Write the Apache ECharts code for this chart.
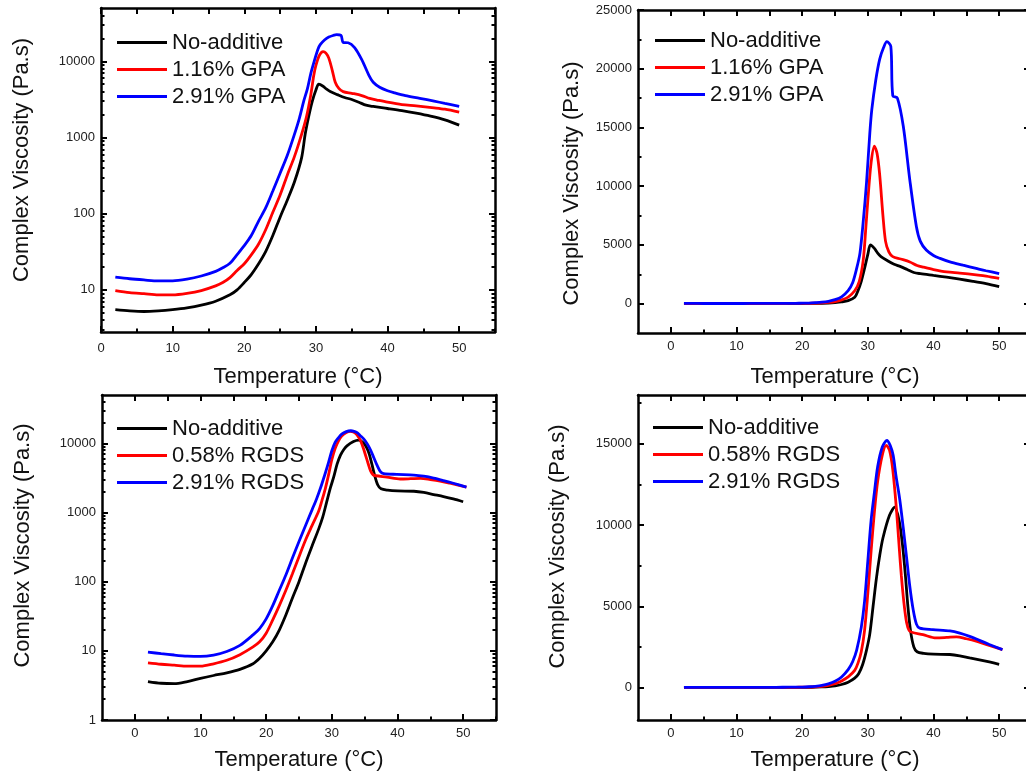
<!DOCTYPE html>
<html>
<head>
<meta charset="utf-8">
<script src="https://cdn.jsdelivr.net/npm/echarts@6/dist/echarts.min.js"></script>
<style>html,body{margin:0;padding:0;background:#fff;}#c{width:1026px;height:776px;}</style>
</head>
<body>
<div id="c"></div>
<script>
// ---------- DATA ----------
// GPA set (top panels: log and linear view of the same measurements)
const gpaTempNo = [2,4,6,8,10,12,14,16,18,19,20,21,22,23,24,25,26,27,28,28.5,29,29.5,30,30.4,31,31.5,32,33,34,35,36,37,38,40,42,44,46,48,50];
const gpaNo     = [5.5,5.3,5.2,5.3,5.5,5.8,6.3,7.1,8.6,10,12.5,16,22,32,52,90,150,260,540,1100,1900,3000,4200,5000,4700,4300,4000,3650,3350,3150,2900,2650,2550,2400,2250,2080,1900,1700,1450];
const gpaTemp1  = [2,4,6,8,10,12,14,16,17,18,19,20,21,22,23,24,25,26,27,28,28.7,29.3,29.7,30,30.5,31,31.4,31.8,32.3,32.7,33.2,33.8,35,36.4,37.5,38.5,40,42,44,46.5,48,50];
const gpa1      = [9.8,9.2,8.9,8.6,8.6,9.0,9.8,11.3,12.5,14.5,18,22,29,40,62,105,176,320,560,1100,1900,3700,6500,8800,12000,13400,12800,11000,7500,5300,4400,4000,3800,3550,3250,3100,2900,2700,2600,2450,2350,2150];
const gpaTemp2  = [2,4,6,8,10,12,14,16,17,18,19,20,21,22,23,24,25,26,27,27.7,28.3,28.8,29.3,29.8,30.3,30.6,31.2,31.8,32.4,32.9,33.5,33.8,34.5,35.4,36.4,37.4,38,38.9,40,41,42.5,44.5,46.5,48,50];
const gpa2      = [14.7,14.0,13.5,13.1,13.1,13.8,15.2,17.5,19.5,22.4,29,38,52,80,120,200,340,580,1100,1800,3000,4300,7000,10300,14500,16500,19000,20800,21800,22300,21900,17700,17500,15100,10500,6550,5300,4560,4100,3850,3550,3270,3000,2800,2560];
// RGDS set (bottom panels)
const rgdTempNo = [2,4,6,8,10,12,14,16,18,19,20,21,22,23,24,25,26,27,28,28.6,29.2,29.8,30.3,30.8,31.3,31.8,32.3,33.3,34.1,34.8,35.3,35.7,36.1,36.5,37,37.5,38.5,40,42.5,44,45.5,47,48.5,50];
const rgdNo     = [3.6,3.4,3.35,3.6,4.0,4.4,4.8,5.4,6.5,7.8,10,13.5,20,33,58,100,185,330,580,850,1400,2300,3300,5000,6700,8100,9200,10600,11100,10200,8700,7000,5000,3500,2500,2200,2100,2050,2030,1950,1820,1700,1570,1430];
const rgdTemp1  = [2,4,6,8,10,12,14,16,18,19,20,21,22,23,24,25,26,27,28,28.5,29,29.5,30,30.5,31,31.5,32.2,32.8,33.3,33.8,34.35,34.8,35.1,35.5,35.9,36.3,36.7,38.4,40.4,42,43.5,45,46.5,48,50.5];
const rgd1      = [6.7,6.4,6.2,6.0,6.0,6.5,7.3,8.8,11.4,13.5,18,28,45,75,130,230,400,650,1050,1500,2200,3500,5800,8400,10800,12700,14300,14900,14600,13400,11000,8500,6900,5200,4000,3500,3400,3250,3050,3080,3120,3000,2850,2650,2330];
const rgdTemp2  = [2,4,6,8,10,12,14,16,18,19,20,21,22,23,24,25,26,27,27.7,28.3,29,29.5,30,30.5,31,31.5,32.2,32.9,33.4,33.85,34.3,34.85,35.4,35.9,36.4,36.9,37.4,37.9,39.9,42.5,44,45.5,47,48.5,50.5];
const rgd2      = [9.6,9.1,8.7,8.4,8.3,8.7,9.8,12,17,21,29,45,75,125,220,380,650,1100,1600,2300,3700,5300,7800,10300,12000,13600,14800,15200,14900,14300,13000,11600,9800,8000,6200,4800,3900,3650,3560,3480,3350,3150,2900,2650,2330];

const gpaNames = ['No-additive','1.16% GPA','2.91% GPA'];
const rgdNames = ['No-additive','0.58% RGDS','2.91% RGDS'];
const colors = ['#000000','#ff0000','#0000ff'];

// tick values
const xMajor = [0,10,20,30,40,50];
const xMinor = [5,15,25,35,45,55];
const xTop = [0,5,10,15,20,25,30,35,40,45,50,55];
const logMajorA = [10,100,1000,10000];
const logMajorB = [1,10,100,1000,10000];
const logMinor = [2,3,4,5,6,7,8,9,20,30,40,50,60,70,80,90,200,300,400,500,600,700,800,900,2000,3000,4000,5000,6000,7000,8000,9000,20000,30000,40000];
const linMajorA = [0,5000,10000,15000,20000,25000];
const linMinorA = [2500,7500,12500,17500,22500];
const linMajorB = [0,5000,10000,15000];
const linMinorB = [2500,7500,12500,17500];

// ---------- BUILD ----------
const FONT = "'Liberation Sans', Arial, Helvetica, sans-serif";
const AX = '#000';
const pair = (t, v) => t.map((x, i) => [x, v[i]]);

const grids = [
  {left:101, top:8,   width:394, height:324, outerBoundsMode:'none', containLabel:false},
  {left:638, top:10,  width:394, height:323, outerBoundsMode:'none', containLabel:false},
  {left:102, top:395, width:394, height:325, outerBoundsMode:'none', containLabel:false},
  {left:638, top:395, width:394, height:325, outerBoundsMode:'none', containLabel:false}
];

const xAxis = [], yAxis = [];
function base(g, pos, type, min, max) {
  return {type, gridIndex:g, position:pos, min, max, offset:0,
    splitLine:{show:false}, axisPointer:{show:false},
    axisLine:{show:false, onZero:false}, axisLabel:{show:false}, axisTick:{show:false}};
}
function tickAxis(arr, g, pos, type, min, max, vals, len, line) {
  const a = base(g, pos, type, min, max);
  if (type === 'log') a.logBase = 10;
  a.axisTick = {show:true, inside:true, length:len, lineStyle:{color:AX, width:2}, customValues:vals};
  if (line) a.axisLine = {show:true, onZero:false, lineStyle:{color:AX, width:2.5}};
  arr.push(a);
  return arr.length - 1;
}
const fmt = v => String(Math.round(v));

function panel(cfg) {
  const g = cfg.g;
  // bottom main x
  const xb = tickAxis(xAxis, g, 'bottom', 'value', cfg.xmin, 55, xMajor, 6, true);
  Object.assign(xAxis[xb], {
    axisLabel:{show:true, customValues:xMajor, margin:cfg.xLabMargin, fontSize:13, color:'#222', fontFamily:FONT, formatter:fmt},
    name:'Temperature (°C)', nameLocation:'middle', nameGap:cfg.xNameGap,
    nameTextStyle:{fontSize:22, color:'#111', fontFamily:FONT}
  });
  tickAxis(xAxis, g, 'bottom', 'value', cfg.xmin, 55, xMinor, 3.5, false);
  tickAxis(xAxis, g, 'top', 'value', cfg.xmin, 55, xTop, 6, true);
  // left main y
  const yl = tickAxis(yAxis, g, 'left', cfg.ytype, cfg.ymin, cfg.ymax, cfg.yMajor, 6, true);
  Object.assign(yAxis[yl], {
    axisLabel:{show:true, customValues:cfg.yMajor, margin:6, fontSize:13, color:'#222', fontFamily:FONT, formatter:fmt},
    name:'Complex Viscosity (Pa.s)', nameLocation:'middle', nameGap:cfg.yNameGap,
    nameTextStyle:{fontSize:22, color:'#111', fontFamily:FONT, padding:cfg.yNamePad}
  });
  tickAxis(yAxis, g, 'left', cfg.ytype, cfg.ymin, cfg.ymax, cfg.yMinor, 3.5, false);
  tickAxis(yAxis, g, 'right', cfg.ytype, cfg.ymin, cfg.ymax, cfg.yMajor, cfg.rightLen, true);
  tickAxis(yAxis, g, 'right', cfg.ytype, cfg.ymin, cfg.ymax, cfg.yMinor, 3.5, false);
  return cfg.sets.map((s, i) => ({
    type:'line', name:cfg.names[i], xAxisIndex:xb, yAxisIndex:yl,
    data:pair(s[0], s[1]), showSymbol:false, symbol:'none', smooth:0.3,
    lineStyle:{width:2.8, color:colors[i]}, itemStyle:{color:colors[i]}, z:2+i
  }));
}

const gpaSets = [[gpaTempNo,gpaNo],[gpaTemp1,gpa1],[gpaTemp2,gpa2]];
const rgdSets = [[rgdTempNo,rgdNo],[rgdTemp1,rgd1],[rgdTemp2,rgd2]];

let series = [];
series = series.concat(panel({g:0, xmin:0, ytype:'log', ymin:2.8, ymax:50000, yMajor:logMajorA, yMinor:logMinor, rightLen:6,
  xLabMargin:10, xNameGap:34, yNameGap:68, yNamePad:[0,0,0,20], names:gpaNames, sets:gpaSets}));
series = series.concat(panel({g:1, xmin:-5, ytype:'value', ymin:-2500, ymax:25000, yMajor:linMajorA, yMinor:linMinorA, rightLen:8,
  xLabMargin:7, xNameGap:33, yNameGap:55, yNamePad:[0,24,0,0], names:gpaNames, sets:gpaSets}));
series = series.concat(panel({g:2, xmin:-5, ytype:'log', ymin:1, ymax:50000, yMajor:logMajorB, yMinor:logMinor, rightLen:6,
  xLabMargin:7, xNameGap:29, yNameGap:68, yNamePad:[0,0,0,24], names:rgdNames, sets:rgdSets}));
series = series.concat(panel({g:3, xmin:-5, ytype:'value', ymin:-2000, ymax:18000, yMajor:linMajorB, yMinor:linMinorB, rightLen:8,
  xLabMargin:7, xNameGap:29, yNameGap:69, yNamePad:[0,0,0,22], names:rgdNames, sets:rgdSets}));

function legend(names, left, top) {
  return {data:names, left, top, orient:'vertical', padding:0, itemGap:4,
    icon:'rect', itemWidth:50, itemHeight:3, selectedMode:false,
    textStyle:{fontSize:22, lineHeight:23, color:'#111', fontFamily:FONT}};
}

const option = {
  animation:false,
  backgroundColor:'#ffffff',
  grid:grids,
  xAxis, yAxis,
  legend:[legend(gpaNames,117,31), legend(gpaNames,655,29), legend(rgdNames,117,417), legend(rgdNames,653,416)],
  series
};
const chart = echarts.init(document.getElementById('c'), null, {renderer:'canvas'});
chart.setOption(option);
</script>
</body>
</html>
